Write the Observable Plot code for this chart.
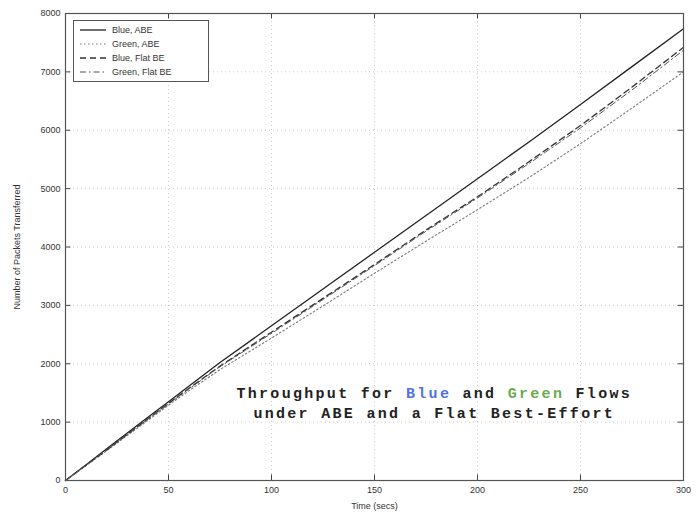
<!DOCTYPE html>
<html>
<head>
<meta charset="utf-8">
<script src="https://cdn.jsdelivr.net/npm/d3@7"></script>
<script src="https://cdn.jsdelivr.net/npm/@observablehq/plot@0.6"></script>
<style>
  body { margin: 0; background: #fff; }
  #wrap { position: relative; width: 696px; height: 515px; }
  #legend { position: absolute; left: 73px; top: 20px; width: 136px; height: 62px; border: 1px solid #555; background: #fff;
            font: 9px "Liberation Sans", Arial, sans-serif; color: #333; box-sizing: border-box; padding: 2px 0 0 4px; }
  #legend .row { display: flex; align-items: center; height: 14px; }
  #legend svg { margin-right: 4px; }
</style>
</head>
<body>
<div id="wrap"></div>
<script>
// ---- data ----
const time      = [0, 10, 20, 30, 40, 50, 60, 75, 100, 125, 150, 175, 200, 225, 250, 275, 300];
const blueABE   = [0, 270, 545, 815, 1085, 1350, 1620, 2020, 2650, 3280, 3910, 4540, 5170, 5800, 6440, 7090, 7740];
const greenABE  = [0, 255, 510, 770, 1030, 1290, 1540, 1900, 2440, 2990, 3550, 4100, 4640, 5190, 5770, 6380, 7000];
const blueFlat  = [0, 262, 522, 790, 1058, 1320, 1580, 1960, 2540, 3120, 3700, 4290, 4860, 5460, 6080, 6740, 7420];
const greenFlat = [0, 265, 526, 786, 1050, 1310, 1570, 1950, 2520, 3100, 3680, 4270, 4840, 5430, 6040, 6690, 7370];
const seriesNames = ["Blue, ABE", "Green, ABE", "Blue, Flat BE", "Green, Flat BE"];
const xTicks = [0, 50, 100, 150, 200, 250, 300];
const yTicks = [0, 1000, 2000, 3000, 4000, 5000, 6000, 7000, 8000];
const noteLine1 = "Throughput for Blue and Green Flows";
const noteLine2 = "under ABE and a Flat Best-Effort";

const styles = {
  "Blue, ABE":      {stroke: "#222", dash: null,          width: 1.3},
  "Green, ABE":     {stroke: "#777", dash: "1.5,2.5",     width: 1.1},
  "Blue, Flat BE":  {stroke: "#333", dash: "6,4",         width: 1.3},
  "Green, Flat BE": {stroke: "#555", dash: "6,3,1.5,3",   width: 1.0}
};
const allSeries = [blueABE, greenABE, blueFlat, greenFlat];
const lines = seriesNames.map((name, i) => time.map((t, j) => ({t, v: allSeries[i][j], name})));

const notes = [
  {t: 179, v: 1500, label: noteLine1},
  {t: 179, v: 1150, label: noteLine2}
];

const plot = Plot.plot({
  width: 696,
  height: 515,
  marginLeft: 65,
  marginRight: 13,
  marginTop: 13,
  marginBottom: 35,
  style: {fontFamily: "'Liberation Sans', Arial, sans-serif", fontSize: "9px", color: "#333", background: "#fff"},
  x: {domain: [0, 300]},
  y: {domain: [0, 8000]},
  marks: [
    Plot.gridX(xTicks, {stroke: "#aaa", strokeOpacity: 0.6, strokeDasharray: "1,3"}),
    Plot.gridY(yTicks, {stroke: "#aaa", strokeOpacity: 0.6, strokeDasharray: "1,3"}),
    Plot.axisX(xTicks, {tickSize: 0, tickPadding: 6, label: "Time (secs)", labelAnchor: "center", labelArrow: "none", labelOffset: 28, tickFormat: d => String(d)}),
    Plot.axisY(yTicks, {tickSize: 0, tickPadding: 5, label: "Number of Packets Transferred", labelAnchor: "center", labelArrow: "none", labelOffset: 52, tickFormat: d => String(d)}),
    // inward ticks on all four sides
    Plot.ruleX(xTicks, {x: d => d, y1: 0, y2: 95, stroke: "#444"}),
    Plot.ruleX(xTicks, {x: d => d, y1: 7905, y2: 8000, stroke: "#444"}),
    Plot.ruleY(yTicks, {y: d => d, x1: 0, x2: 2.6, stroke: "#444"}),
    Plot.ruleY(yTicks, {y: d => d, x1: 297.4, x2: 300, stroke: "#444"}),
    ...lines.map(ld => {
      const s = styles[ld[0].name];
      return Plot.line(ld, {x: "t", y: "v", stroke: s.stroke, strokeWidth: s.width, strokeDasharray: s.dash});
    }),
    Plot.text(notes, {x: "t", y: "v", text: "label", fontFamily: "'Liberation Mono', 'DejaVu Sans Mono', monospace",
      fontWeight: "bold", fontSize: 15, fill: "#222"}),
    Plot.frame({stroke: "#555", strokeWidth: 1.2})
  ]
});

// colour the words "Blue" and "Green" in the note, and widen it like the original
plot.querySelectorAll("text").forEach(el => {
  const txt = el.textContent;
  if (txt === noteLine1 || txt === noteLine2) {
    el.style.letterSpacing = "2.3px";
  }
  if (txt === noteLine1) {
    const parts = [["Throughput for ", null], ["Blue", "#4d74e0"], [" and ", null], ["Green", "#6aab4f"], [" Flows", null]];
    const target = el.querySelector("tspan") || el;
    while (target.firstChild) target.removeChild(target.firstChild);
    parts.forEach(([s, c]) => {
      const ts = document.createElementNS("http://www.w3.org/2000/svg", "tspan");
      ts.textContent = s;
      if (c) ts.setAttribute("fill", c);
      target.appendChild(ts);
    });
  }
});

const wrap = document.getElementById("wrap");
wrap.appendChild(plot);

// legend
const legend = document.createElement("div");
legend.id = "legend";
seriesNames.forEach(name => {
  const s = styles[name];
  const row = document.createElement("div");
  row.className = "row";
  row.innerHTML = `<svg width="30" height="8"><line x1="2" x2="28" y1="4" y2="4" stroke="${s.stroke}" stroke-width="${s.width}" ${s.dash ? `stroke-dasharray="${s.dash}"` : ""}/></svg><span>${name}</span>`;
  legend.appendChild(row);
});
wrap.appendChild(legend);
</script>
</body>
</html>
